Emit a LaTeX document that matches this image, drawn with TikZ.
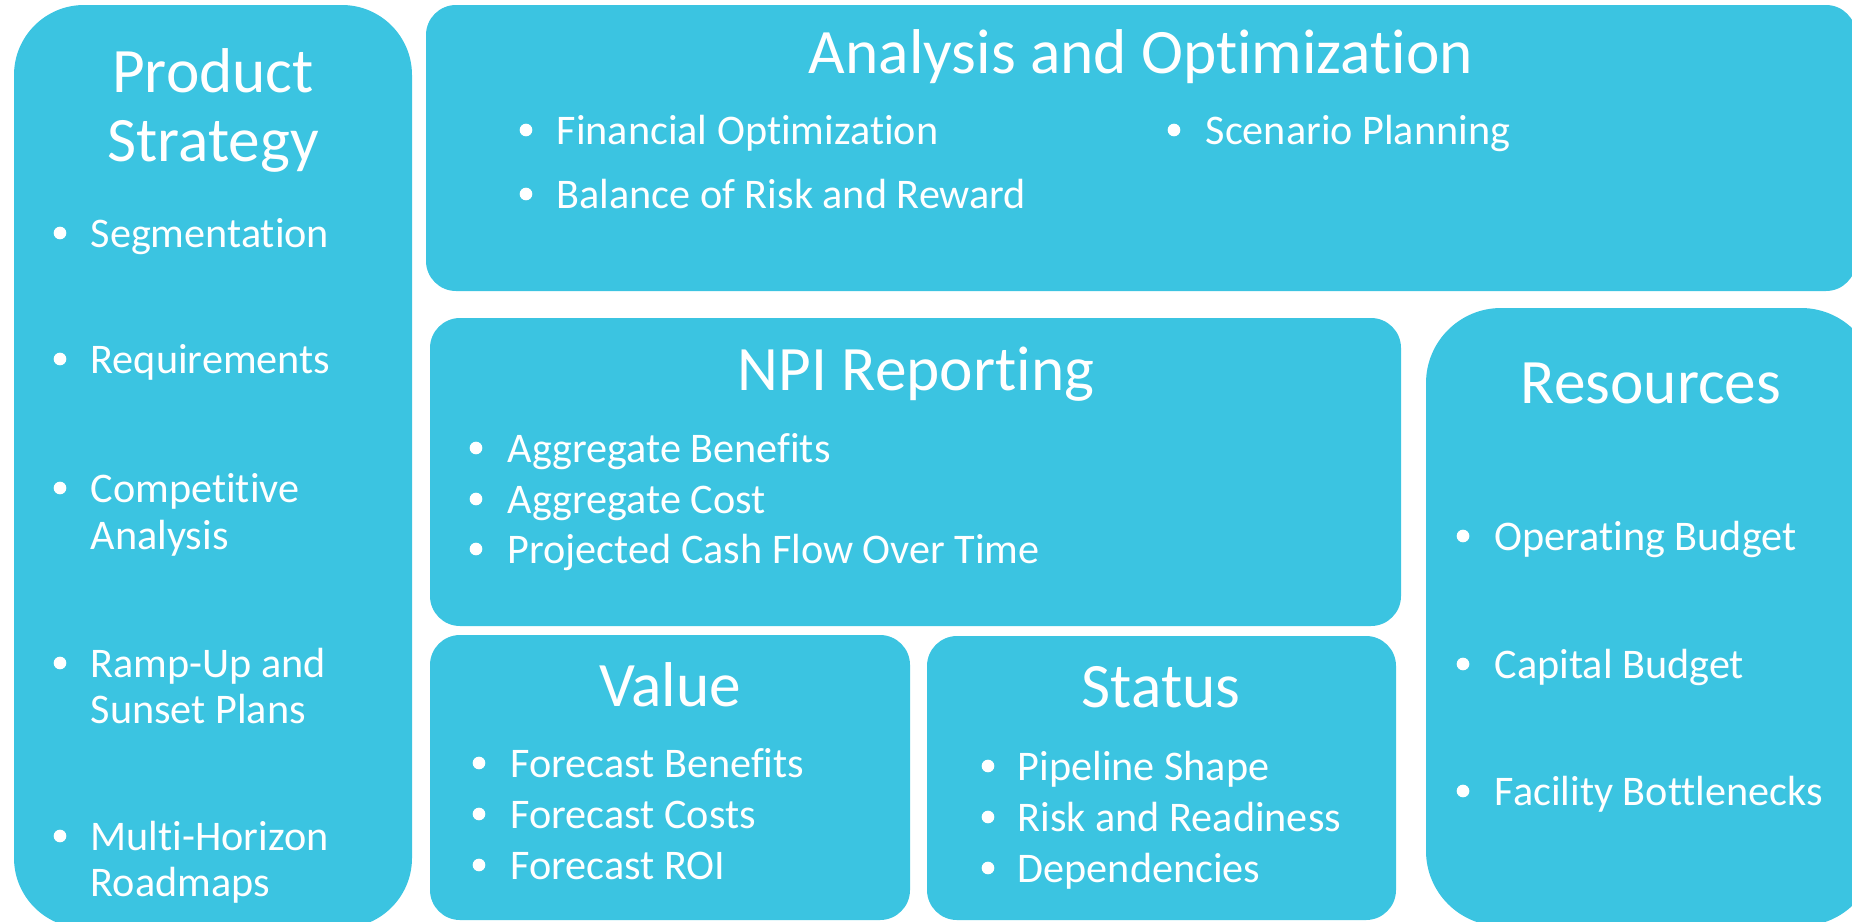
\documentclass[tikz,border=0pt]{standalone}
\usepackage{fontspec}
\setmainfont{Carlito}[Ligatures={NoCommon,NoContextual}]
\usepackage{xcolor}
\usepackage{tikz}

\definecolor{tilecyan}{RGB}{59,196,225}

\tikzset{
  tile/.style={fill=tilecyan, draw=none},
  heading/.style={anchor=base, inner sep=0pt, text=white, font=\fontsize{18}{20}\selectfont},
  entry/.style={anchor=base west, inner sep=0pt, text=white, font=\fontsize{12}{13}\selectfont},
  dot/.style={fill=white},
}

\begin{document}
\begin{tikzpicture}[x=0.01cm, y=-0.01cm]
        \useasboundingbox (0,0) rectangle (1852,921);
        \clip (0,0) rectangle (1852,921);

        % tiles
        \fill[tile, rounded corners=7mm] (14,5) rectangle (412,928);
        \fill[tile, rounded corners=3mm] (426,5) rectangle (1856,291);
        \fill[tile, rounded corners=3mm] (430,318) rectangle (1401,626);
        \fill[tile, rounded corners=3mm] (430,635) rectangle (910,920);
        \fill[tile, rounded corners=3mm] (927,636) rectangle (1396,920);
        \fill[tile, rounded corners=7.5mm] (1426,308) rectangle (1876,926);

        % headings
        \node[heading] (strat-a) at (213,92) {Product};
        \node[heading] (strat-b) at (213,161) {Strategy};
        \node[heading] (opt) at (1141,73) {Analysis and Optimization};
        \node[heading] (npi) at (916,390) {NPI Reporting};
        \node[heading] (res) at (1651,403) {Resources};
        \node[heading] (val) at (670,706) {Value};
        \node[heading] (stat) at (1161,707) {Status};

        % product strategy
        \fill[dot] (60,233) circle (1.8pt);
        \node[entry] (strat-1) at (90,247) {Segmentation};
        \fill[dot] (60,359) circle (1.8pt);
        \node[entry] (strat-2) at (90,373) {Requirements};
        \fill[dot] (60,488) circle (1.8pt);
        \node[entry] (strat-3a) at (90,502) {Competitive};
        \node[entry] (strat-3b) at (90,549) {Analysis};
        \fill[dot] (60,663) circle (1.8pt);
        \node[entry] (strat-4a) at (90,677) {Ramp-Up and};
        \node[entry] (strat-4b) at (90,723) {Sunset Plans};
        \fill[dot] (60,836) circle (1.8pt);
        \node[entry] (strat-5a) at (90,850) {Multi-Horizon};
        \node[entry] (strat-5b) at (90,896) {Roadmaps};

        % analysis and optimization
        \fill[dot] (526,130) circle (1.8pt);
        \node[entry] (opt-1) at (556,144) {Financial Optimization};
        \fill[dot] (526,194) circle (1.8pt);
        \node[entry] (opt-2) at (556,208) {Balance of Risk and Reward};
        \fill[dot] (1174,130) circle (1.8pt);
        \node[entry] (opt-3) at (1205,144) {Scenario Planning};

        % npi reporting
        \foreach \n/\y/\t in {1/462/Aggregate Benefits, 2/513/Aggregate Cost, 3/563/Projected Cash Flow Over Time} {
            \fill[dot] (476,\y-14) circle (1.8pt);
            \node[entry] (npi-\n) at (507,\y) {\t};
        }

        % value
        \foreach \n/\y/\t in {1/777/Forecast Benefits, 2/828/Forecast Costs, 3/879/Forecast ROI} {
            \fill[dot] (479,\y-14) circle (1.8pt);
            \node[entry] (val-\n) at (510,\y) {\t};
        }

        % status
        \foreach \n/\y/\t in {1/780/Pipeline Shape, 2/831/Risk and Readiness, 3/882/Dependencies} {
            \fill[dot] (988,\y-14) circle (1.8pt);
            \node[entry] (stat-\n) at (1017,\y) {\t};
        }

        % resources
        \foreach \n/\y/\t in {1/550/Operating Budget, 2/678/Capital Budget, 3/805/Facility Bottlenecks} {
            \fill[dot] (1463,\y-14) circle (1.8pt);
            \node[entry] (res-\n) at (1494,\y) {\t};
        }
\end{tikzpicture}
\end{document}
